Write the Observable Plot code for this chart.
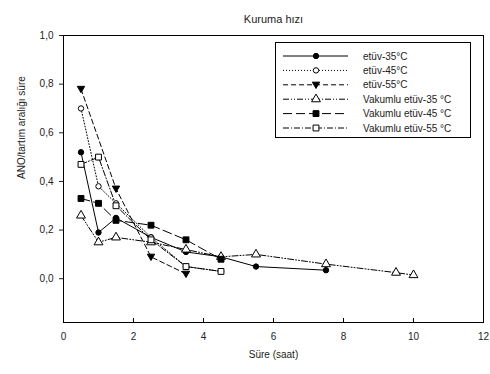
<!DOCTYPE html>
<html><head><meta charset="utf-8">
<script src="https://cdn.jsdelivr.net/npm/d3@7"></script>
<script src="https://cdn.jsdelivr.net/npm/@observablehq/plot@0.6"></script>
<style>body{margin:0;background:#fff} svg{display:block}</style>
</head><body><div id="chart"></div>
<script>
const title = "Kuruma hızı";
const xLabel = "Süre (saat)";
const yLabel = "ANO/tartım aralığı süre";
const seriesNames = ["etüv-35°C","etüv-45°C","etüv-55°C","Vakumlu etüv-35 °C","Vakumlu etüv-45 °C","Vakumlu etüv-55 °C"];
const t35 = [0.5,1,1.5,2.5,3.5,4.5,5.5,7.5];
const v35 = [0.52,0.19,0.25,0.17,0.11,0.09,0.05,0.035];
const t45 = [0.5,1,1.5,2.5,3.5,4.5];
const v45 = [0.70,0.38,0.31,0.17,0.05,0.03];
const t55 = [0.5,1.5,2.5,3.5];
const v55 = [0.78,0.37,0.09,0.02];
const tV35 = [0.5,1,1.5,2.5,3.5,4.5,5.5,7.5,9.5,10];
const vV35 = [0.26,0.15,0.17,0.15,0.12,0.09,0.10,0.06,0.025,0.015];
const tV45 = [0.5,1,1.5,2.5,3.5,4.5];
const vV45 = [0.33,0.31,0.24,0.22,0.16,0.08];
const tV55 = [0.5,1,1.5,2.5,3.5,4.5];
const vV55 = [0.47,0.50,0.30,0.16,0.05,0.03];
const xTicks = [0,2,4,6,8,10,12];
const yTicks = [0,0.2,0.4,0.6,0.8,1.0];

const invTri = {draw(ctx, size){
  const h = Math.sqrt(size) * 1.15;
  ctx.moveTo(-h*0.58, -h*0.42); ctx.lineTo(h*0.58, -h*0.42); ctx.lineTo(0, h*0.58); ctx.closePath();
}};
const seriesT = [t35,t45,t55,tV35,tV45,tV55];
const seriesV = [v35,v45,v55,vV35,vV45,vV55];
const styles = [
  {symbol: "circle", d3sym: d3.symbolCircle, fill: "black", dash: null, r: 2.7},
  {symbol: "circle", d3sym: d3.symbolCircle, fill: "white", dash: "1,2", r: 2.7},
  {symbol: invTri, d3sym: invTri, fill: "black", dash: "5,3", r: 3.1},
  {symbol: "triangle", d3sym: d3.symbolTriangle, fill: "white", dash: "6,2,1,2,1,2", r: 3.3},
  {symbol: "square", d3sym: d3.symbolSquare, fill: "black", dash: "9,4", r: 3.3},
  {symbol: "square", d3sym: d3.symbolSquare, fill: "white", dash: "6,2,1,2", r: 3.3}
];
const data = seriesNames.map((name, i) => seriesT[i].map((t, j) => ({name, t, v: seriesV[i][j]})));

const marks = [
  Plot.frame({stroke: "black"}),
  Plot.axisY(yTicks, {tickSize: 4, tickPadding: 6, tickFormat: d => d.toFixed(1).replace(".", ","), fontSize: 10}),
  Plot.axisX(xTicks, {tickSize: 0, tickPadding: 10, fontSize: 10}),
  Plot.tickX(xTicks, {x: d => d, stroke: "black", insetTop: 283}),
  Plot.text([title], {frameAnchor: "top", dy: -20, fontSize: 11}),
  Plot.text([xLabel], {frameAnchor: "bottom", dy: 35, fontSize: 10}),
  Plot.text([yLabel], {frameAnchor: "left", rotate: -90, dx: -42, fontSize: 10})
];
data.forEach((d, i) => {
  const s = styles[i];
  marks.push(Plot.line(d, {x: "t", y: "v", stroke: "black", strokeWidth: 1, strokeDasharray: s.dash}));
});
data.forEach((d, i) => {
  const s = styles[i];
  marks.push(Plot.dot(d, {x: "t", y: "v", symbol: s.symbol, fill: s.fill, stroke: "black", strokeWidth: 1, r: s.r}));
});

const svg = Plot.plot({
  width: 490, height: 374,
  marginLeft: 63, marginRight: 7, marginTop: 35, marginBottom: 52,
  style: {fontFamily: "'Liberation Sans', Arial, sans-serif", fontSize: "10px", color: "#222", background: "white", overflow: "visible"},
  x: {domain: [0, 12], label: null},
  y: {domain: [-0.18, 1.0], label: null},
  marks
});

// legend
const g = d3.select(svg).append("g").attr("font-family", "'Liberation Sans', Arial, sans-serif").attr("font-size", 10).attr("text-anchor", "start");
g.append("rect").attr("x", 275.5).attr("y", 42.5).attr("width", 195).attr("height", 95).attr("fill", "white").attr("stroke", "black");
seriesNames.forEach((name, i) => {
  const s = styles[i];
  const y = 56 + i * 14.4;
  g.append("line").attr("x1", 283).attr("x2", 348).attr("y1", y).attr("y2", y)
    .attr("stroke", "black").attr("stroke-dasharray", s.dash);
  g.append("path").attr("transform", `translate(316,${y})`)
    .attr("d", d3.symbol().type(s.d3sym).size(Math.PI * s.r * s.r)())
    .attr("fill", s.fill).attr("stroke", "black");
  g.append("text").attr("x", 363).attr("y", y).attr("dy", "0.35em").attr("text-anchor", "start").attr("fill", "#222").text(name);
});
document.getElementById("chart").appendChild(svg);
</script></body></html>
